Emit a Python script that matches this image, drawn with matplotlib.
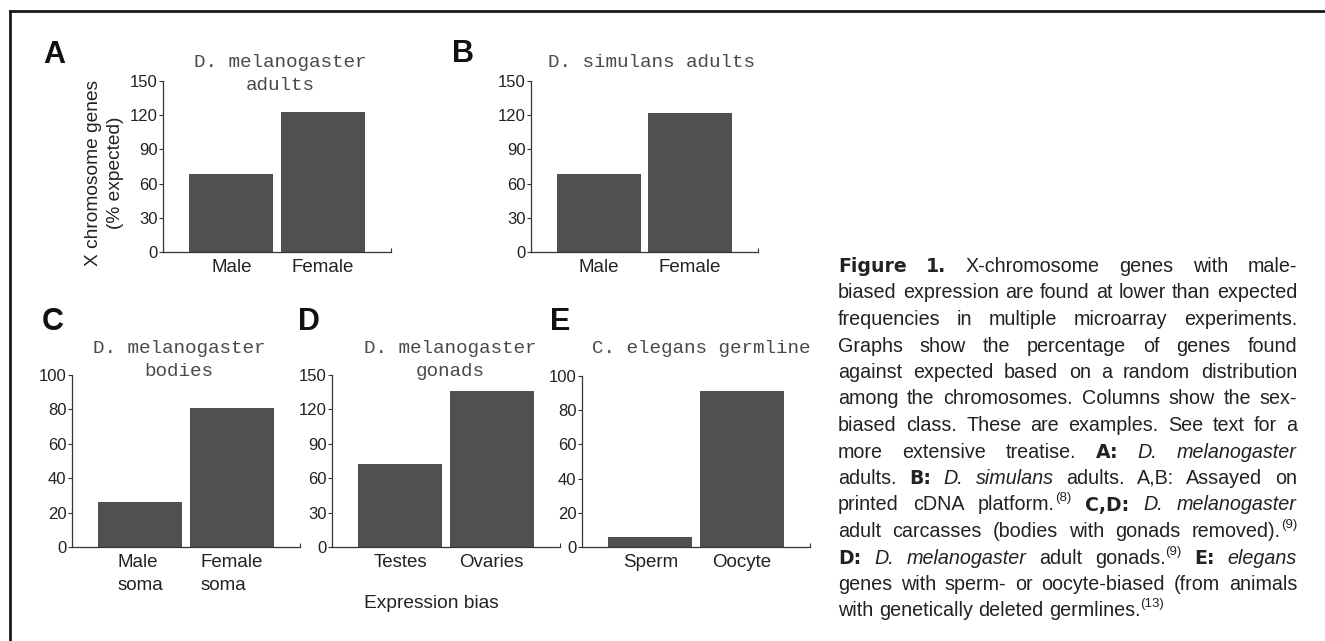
import matplotlib
matplotlib.use('Agg')
import matplotlib.pyplot as plt
from matplotlib.font_manager import FontProperties
from matplotlib.lines import Line2D

W, H = 1325, 641  # output size in pixels

# ---- data ----
panel_letters = ['A', 'B', 'C', 'D', 'E']
panel_titles = [
    ['D. melanogaster', 'adults'],
    ['D. simulans adults'],
    ['D. melanogaster', 'bodies'],
    ['D. melanogaster', 'gonads'],
    ['C. elegans germline'],
]
bar_labels = [
    ['Male', 'Female'],
    ['Male', 'Female'],
    ['Male\nsoma', 'Female\nsoma'],
    ['Testes', 'Ovaries'],
    ['Sperm', 'Oocyte'],
]
bar_values = [
    [68, 123],
    [68, 122],
    [26, 81],
    [72, 136],
    [6, 91],
]
y_max = [150, 150, 100, 150, 100]
y_step = [30, 30, 20, 30, 20]

caption = [
    [('Figure 1.', 'b'), (' X-chromosome genes with male-', 'n')],
    [('biased expression are found at lower than expected', 'n')],
    [('frequencies in multiple microarray experiments.', 'n')],
    [('Graphs show the percentage of genes found', 'n')],
    [('against expected based on a random distribution', 'n')],
    [('among the chromosomes. Columns show the sex-', 'n')],
    [('biased class. These are examples. See text for a', 'n')],
    [('more extensive treatise. ', 'n'), ('A:', 'b'), (' D. melanogaster', 'i')],
    [('adults. ', 'n'), ('B:', 'b'), (' D. simulans', 'i'), (' adults. A,B: Assayed on', 'n')],
    [('printed cDNA platform.', 'n'), ('(8)', 's'), (' C,D:', 'b'), (' D. melanogaster', 'i')],
    [('adult carcasses (bodies with gonads removed).', 'n'), ('(9)', 's')],
    [('D:', 'b'), (' D. melanogaster', 'i'), (' adult gonads.', 'n'), ('(9)', 's'),
     (' E:', 'b'), (' elegans', 'i')],
    [('genes with sperm- or oocyte-biased (from animals', 'n')],
    [('with genetically deleted germlines.', 'n'), ('(13)', 's')],
]

# ---- layout (pixels) ----
boxes = [(163, 391, 81, 252), (531, 758, 81, 252),
         (72, 300, 375, 547), (332, 560, 375, 547), (582, 810, 376, 547)]
letter_pos = [(43, 63), (452, 62), (42, 330), (298, 330), (550, 330)]
title_pos = [(280, 67), (651, 67), (179, 353), (450, 353), (701, 353)]

bar_color = '#505050'
text_color = '#222222'
sans = 'Liberation Sans'


def fx(x):
    return x / W


def fy(y):
    return 1 - y / H


fig = plt.figure(figsize=(W / 100, H / 100), dpi=100)

# frame lines at top and left
fig.add_artist(Line2D([fx(10), 1], [fy(11), fy(11)], lw=2, color='#1a1a1a'))
fig.add_artist(Line2D([fx(10), fx(10)], [fy(11), 0], lw=2, color='#1a1a1a'))

for i in range(5):
    l, r, t, b = boxes[i]
    ax = fig.add_axes([fx(l), fy(b), (r - l) / W, (b - t) / H])
    ax.bar(range(2), bar_values[i], width=0.92, color=bar_color, edgecolor='none')
    ax.set_xlim(-0.75, 1.75)
    ax.set_ylim(0, y_max[i])
    ax.set_yticks(range(0, y_max[i] + 1, y_step[i]))
    ax.set_xticks(range(2))
    ax.set_xticklabels(bar_labels[i])
    for lab in ax.get_xticklabels():
        lab.set_fontsize(13.5)
        lab.set_family(sans)
        lab.set_color(text_color)
        lab.set_multialignment('left')
        lab.set_linespacing(1.45)
    for lab in ax.get_yticklabels():
        lab.set_fontsize(12)
        lab.set_family(sans)
        lab.set_color(text_color)
    ax.tick_params(axis='x', length=0, pad=5)
    ax.tick_params(axis='y', length=3, width=0.8, color='#333333', pad=1)
    # little upturn at the right end of the x axis
    ax.set_xticks([1.75], minor=True)
    ax.tick_params(axis='x', which='minor', direction='in', length=3, width=0.8, color='#333333')
    for side in ['top', 'right']:
        ax.spines[side].set_visible(False)
    for side in ['left', 'bottom']:
        ax.spines[side].set_linewidth(0.9)
        ax.spines[side].set_color('#333333')

    # panel letter
    fig.text(fx(letter_pos[i][0]), fy(letter_pos[i][1]), panel_letters[i], fontsize=22,
             family=sans, weight='bold', color='#111111', va='baseline', ha='left')
    # panel title, one line at a time
    tx, ty = title_pos[i]
    for k, line in enumerate(panel_titles[i]):
        fig.text(fx(tx), fy(ty + k * 23.5), line, fontsize=13.9, family='Liberation Mono',
                 color='#4a4a4a', ha='center', va='baseline')

# y axis label of panel A
fig.text(fx(93), fy(173), 'X chromosome genes', rotation=90, fontsize=13.8, family=sans,
         color=text_color, ha='center', va='center')
fig.text(fx(116), fy(173), '(% expected)', rotation=90, fontsize=13.8, family=sans,
         color=text_color, ha='center', va='center')
# shared x label under panel D
fig.text(fx(431), fy(604), 'Expression bias', fontsize=13.8, family=sans,
         color=text_color, ha='center', va='center')

# ---- justified caption ----
fonts = {
    'n': FontProperties(family=sans, size=14.2),
    'b': FontProperties(family='DejaVu Sans', weight='bold', size=13.6),
    'i': FontProperties(family=sans, style='italic', size=14.2),
    's': FontProperties(family=sans, size=9.5),
}
raise_px = {'n': 0, 'b': 0, 'i': 0, 's': 9}
renderer = fig.canvas.get_renderer()


def text_width(s, prop):
    w, h, d = renderer.get_text_width_height_descent(s, prop, ismath=False)
    return w


def split_words(segments):
    words = [[]]
    for text, style in segments:
        parts = text.split(' ')
        for k, part in enumerate(parts):
            if k > 0:
                words.append([])
            if part:
                words[-1].append((part, style))
    return [w for w in words if w]


cap_left, cap_right = 838, 1297
base0, line_step = 272, 26.5
space_w = text_width('a a', fonts['n']) - text_width('aa', fonts['n'])

for n, segments in enumerate(caption):
    words = split_words(segments)
    widths = [sum(text_width(s, fonts[st]) for s, st in w) for w in words]
    if n < len(caption) - 1 and len(words) > 1:
        gap = (cap_right - cap_left - sum(widths)) / (len(words) - 1)
    else:
        gap = space_w
    x = cap_left
    y = base0 + n * line_step
    for w, wd in zip(words, widths):
        xx = x
        for s, st in w:
            fig.text(fx(xx), fy(y - raise_px[st]), s, fontproperties=fonts[st],
                     color=text_color, ha='left', va='baseline')
            xx += text_width(s, fonts[st])
        x += wd + gap

fig.savefig('out.png', dpi=100)
